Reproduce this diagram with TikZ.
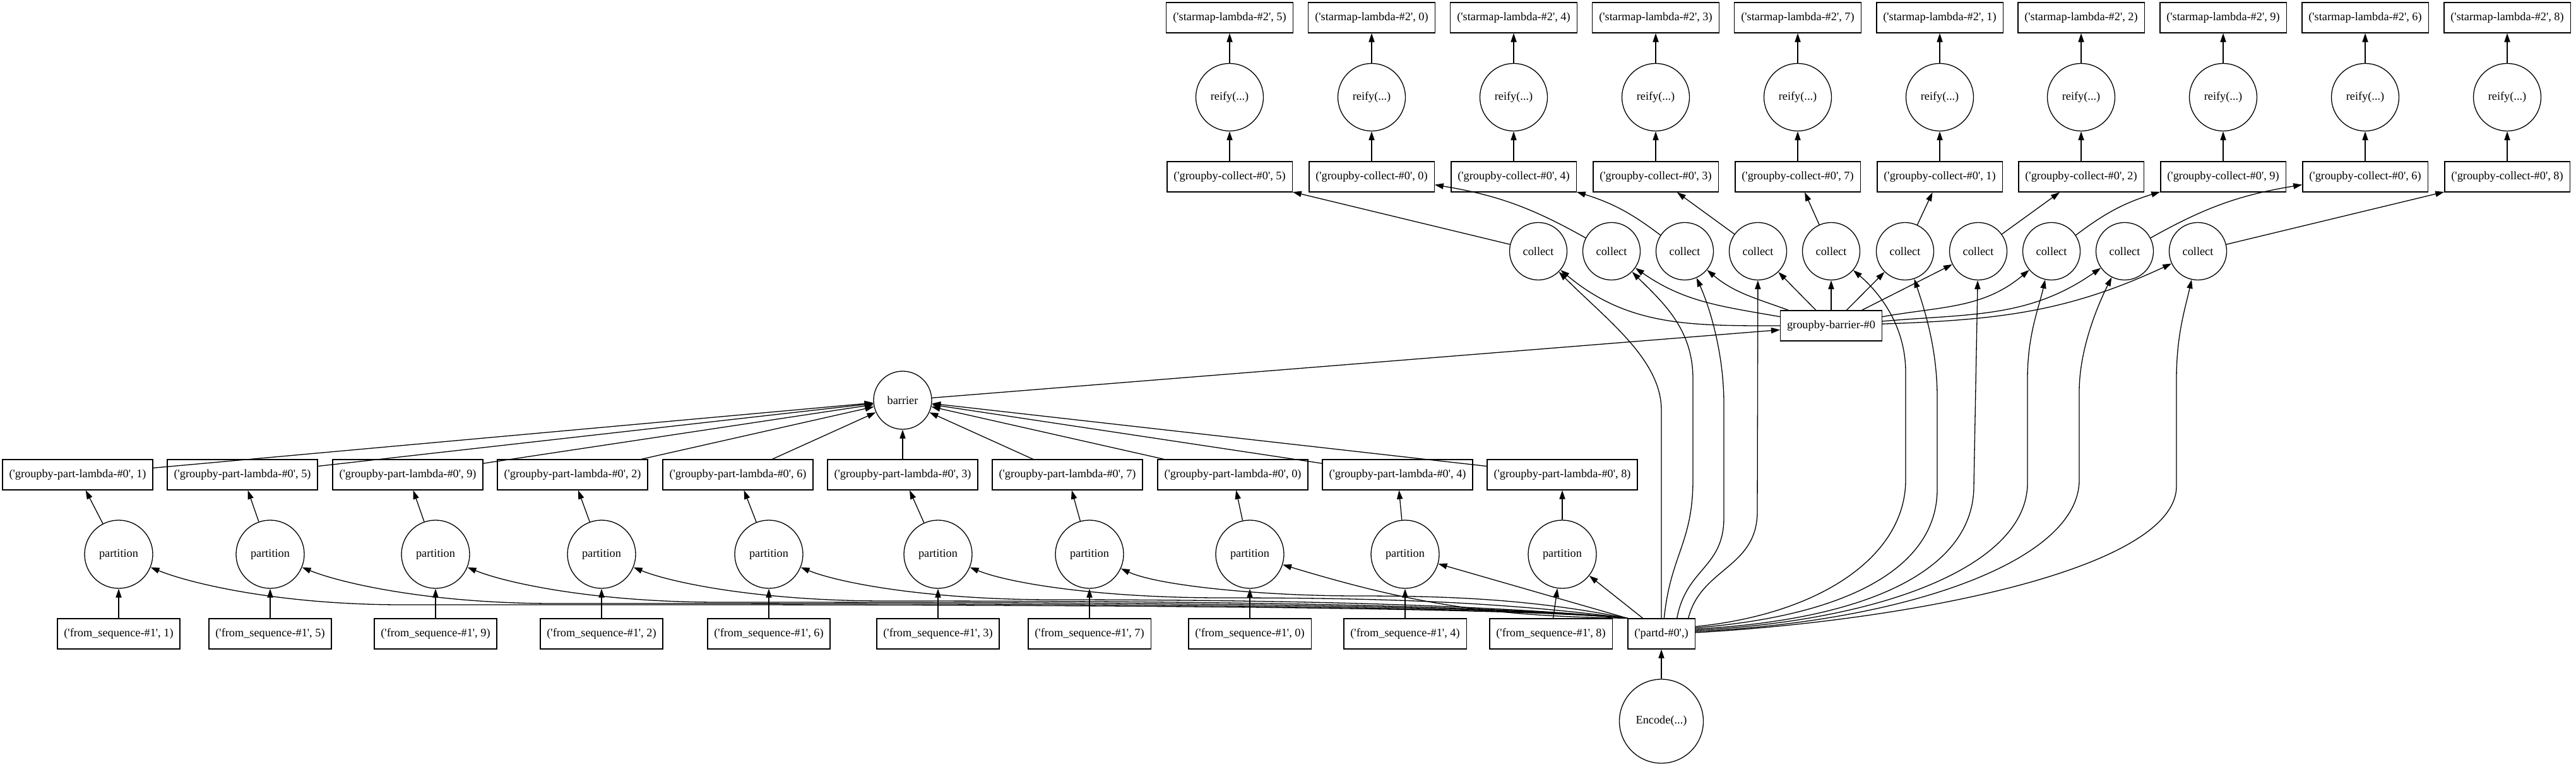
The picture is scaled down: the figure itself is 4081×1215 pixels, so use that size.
\documentclass[tikz,border=0pt]{standalone}
\usepackage{fontspec}
\usepackage{tikz}
\usetikzlibrary{arrows.meta, positioning}

\newfontfamily\gvfont{Liberation Serif}
\newcommand{\tq}{\textquotesingle}

\tikzset{
  task/.style = {draw, rectangle, minimum height=24pt, inner xsep=5.25pt, inner ysep=2pt},
  fn/.style   = {draw, circle, inner sep=0pt, minimum size=#1},
  fn/.default = 45.5pt
}

\begin{document}
\begin{tikzpicture}[->, > = {Triangle[length=7pt, width=4.6pt]}, x=0.5pt, y=-0.5pt,
    node distance = 63pt, line width=0.65pt, font=\gvfont\fontsize{9.15}{11}\selectfont]

\useasboundingbox (0,0) rectangle (4081,1215);

% groupby-collect, reify, starmap
\node[task]		(gc5)	at (1948,280)		{(\tq groupby-collect-\#0\tq, 5)};
\node[task]		(gc0)	at (2173,280)		{(\tq groupby-collect-\#0\tq, 0)};
\node[task]		(gc4)	at (2398,280)		{(\tq groupby-collect-\#0\tq, 4)};
\node[task]		(gc3)	at (2623,280)		{(\tq groupby-collect-\#0\tq, 3)};
\node[task]		(gc7)	at (2848,280)		{(\tq groupby-collect-\#0\tq, 7)};
\node[task]		(gc1)	at (3073,280)		{(\tq groupby-collect-\#0\tq, 1)};
\node[task]		(gc2)	at (3297,280)		{(\tq groupby-collect-\#0\tq, 2)};
\node[task]		(gc9)	at (3522,280)		{(\tq groupby-collect-\#0\tq, 9)};
\node[task]		(gc6)	at (3747,280)		{(\tq groupby-collect-\#0\tq, 6)};
\node[task]		(gc8)	at (3972,280)		{(\tq groupby-collect-\#0\tq, 8)};

\node[fn=53.5pt]	(rf5)	[above of=gc5]		{reify(...)};
\node[fn=53.5pt]	(rf0)	[above of=gc0]		{reify(...)};
\node[fn=53.5pt]	(rf4)	[above of=gc4]		{reify(...)};
\node[fn=53.5pt]	(rf3)	[above of=gc3]		{reify(...)};
\node[fn=53.5pt]	(rf7)	[above of=gc7]		{reify(...)};
\node[fn=53.5pt]	(rf1)	[above of=gc1]		{reify(...)};
\node[fn=53.5pt]	(rf2)	[above of=gc2]		{reify(...)};
\node[fn=53.5pt]	(rf9)	[above of=gc9]		{reify(...)};
\node[fn=53.5pt]	(rf6)	[above of=gc6]		{reify(...)};
\node[fn=53.5pt]	(rf8)	[above of=gc8]		{reify(...)};

\node[task]		(sm5)	[above of=rf5]		{(\tq starmap-lambda-\#2\tq, 5)};
\node[task]		(sm0)	[above of=rf0]		{(\tq starmap-lambda-\#2\tq, 0)};
\node[task]		(sm4)	[above of=rf4]		{(\tq starmap-lambda-\#2\tq, 4)};
\node[task]		(sm3)	[above of=rf3]		{(\tq starmap-lambda-\#2\tq, 3)};
\node[task]		(sm7)	[above of=rf7]		{(\tq starmap-lambda-\#2\tq, 7)};
\node[task]		(sm1)	[above of=rf1]		{(\tq starmap-lambda-\#2\tq, 1)};
\node[task]		(sm2)	[above of=rf2]		{(\tq starmap-lambda-\#2\tq, 2)};
\node[task]		(sm9)	[above of=rf9]		{(\tq starmap-lambda-\#2\tq, 9)};
\node[task]		(sm6)	[above of=rf6]		{(\tq starmap-lambda-\#2\tq, 6)};
\node[task]		(sm8)	[above of=rf8]		{(\tq starmap-lambda-\#2\tq, 8)};

% collect
\node[fn]		(cl5)	at (2437,398)		{collect};
\node[fn]		(cl0)	at (2553,398)		{collect};
\node[fn]		(cl4)	at (2669,398)		{collect};
\node[fn]		(cl3)	at (2785,398)		{collect};
\node[fn]		(cl7)	at (2901,398)		{collect};
\node[fn]		(cl1)	at (3018,398)		{collect};
\node[fn]		(cl2)	at (3134,398)		{collect};
\node[fn]		(cl9)	at (3250,398)		{collect};
\node[fn]		(cl6)	at (3366,398)		{collect};
\node[fn]		(cl8)	at (3482,398)		{collect};

\node[task]		(gb)	at (2901,516)		{groupby-barrier-\#0};
\node[fn=46pt]	(bar)	at (1430,634)		{barrier};

% groupby-part-lambda, partition, from_sequence
\node[task]		(gp1)	at (123,752)		{(\tq groupby-part-lambda-\#0\tq, 1)};
\node[task]		(gp5)	at (384,752)		{(\tq groupby-part-lambda-\#0\tq, 5)};
\node[task]		(gp9)	at (646,752)		{(\tq groupby-part-lambda-\#0\tq, 9)};
\node[task]		(gp2)	at (907,752)		{(\tq groupby-part-lambda-\#0\tq, 2)};
\node[task]		(gp6)	at (1169,752)		{(\tq groupby-part-lambda-\#0\tq, 6)};
\node[task]		(gp3)	at (1430,752)		{(\tq groupby-part-lambda-\#0\tq, 3)};
\node[task]		(gp7)	at (1691,752)		{(\tq groupby-part-lambda-\#0\tq, 7)};
\node[task]		(gp0)	at (1953,752)		{(\tq groupby-part-lambda-\#0\tq, 0)};
\node[task]		(gp4)	at (2214,752)		{(\tq groupby-part-lambda-\#0\tq, 4)};
\node[task]		(gp8)	at (2475,752)		{(\tq groupby-part-lambda-\#0\tq, 8)};

\node[task]		(fs1)	at (188,1004)		{(\tq from\_sequence-\#1\tq, 1)};
\node[task]		(fs5)	at (428,1004)		{(\tq from\_sequence-\#1\tq, 5)};
\node[task]		(fs9)	at (690,1004)		{(\tq from\_sequence-\#1\tq, 9)};
\node[task]		(fs2)	at (953,1004)		{(\tq from\_sequence-\#1\tq, 2)};
\node[task]		(fs6)	at (1218,1004)		{(\tq from\_sequence-\#1\tq, 6)};
\node[task]		(fs3)	at (1486,1004)		{(\tq from\_sequence-\#1\tq, 3)};
\node[task]		(fs7)	at (1726,1004)		{(\tq from\_sequence-\#1\tq, 7)};
\node[task]		(fs0)	at (1980,1004)		{(\tq from\_sequence-\#1\tq, 0)};
\node[task]		(fs4)	at (2226,1004)		{(\tq from\_sequence-\#1\tq, 4)};
\node[task]		(fs8)	at (2457,1004)		{(\tq from\_sequence-\#1\tq, 8)};

\node[fn=54pt]	(pt1)	[above of=fs1]		{partition};
\node[fn=54pt]	(pt5)	[above of=fs5]		{partition};
\node[fn=54pt]	(pt9)	[above of=fs9]		{partition};
\node[fn=54pt]	(pt2)	[above of=fs2]		{partition};
\node[fn=54pt]	(pt6)	[above of=fs6]		{partition};
\node[fn=54pt]	(pt3)	[above of=fs3]		{partition};
\node[fn=54pt]	(pt7)	[above of=fs7]		{partition};
\node[fn=54pt]	(pt0)	[above of=fs0]		{partition};
\node[fn=54pt]	(pt4)	[above of=fs4]		{partition};
\node[fn=54pt]	(pt8)	[above of=fs8, xshift=9pt]	{partition};

\node[task]		(partd)	at (2632,1004)		{(\tq partd-\#0\tq,)};
\node[fn=66.5pt]	(enc)	[below of=partd, node distance=69.25pt]	{Encode(...)};

\path	(enc)	edge	(partd);

\path	(fs1)	edge	(pt1);
\path	(fs5)	edge	(pt5);
\path	(fs9)	edge	(pt9);
\path	(fs2)	edge	(pt2);
\path	(fs6)	edge	(pt6);
\path	(fs3)	edge	(pt3);
\path	(fs7)	edge	(pt7);
\path	(fs0)	edge	(pt0);
\path	(fs4)	edge	(pt4);
\path	(fs8)	edge	(pt8);

\path	(pt1)	edge	(gp1);
\path	(pt5)	edge	(gp5);
\path	(pt9)	edge	(gp9);
\path	(pt2)	edge	(gp2);
\path	(pt6)	edge	(gp6);
\path	(pt3)	edge	(gp3);
\path	(pt7)	edge	(gp7);
\path	(pt0)	edge	(gp0);
\path	(pt4)	edge	(gp4);
\path	(pt8)	edge	(gp8);

\path	(gp1)	edge	(bar);
\path	(gp5)	edge	(bar);
\path	(gp9)	edge	(bar);
\path	(gp2)	edge	(bar);
\path	(gp6)	edge	(bar);
\path	(gp3)	edge	(bar);
\path	(gp7)	edge	(bar);
\path	(gp0)	edge	(bar);
\path	(gp4)	edge	(bar);
\path	(gp8)	edge	(bar);

\path	(bar)	edge	(gb);

\path	(gb)	edge[out=180, in=-40]	(cl5)
		edge[out=170, in=-35]	(cl0)
		edge[out=160, in=-40]	(cl4)
		edge					(cl3)
		edge					(cl7)
		edge					(cl1)
		edge					(cl2)
		edge[out=10, in=-140]	(cl9)
		edge[out=5, in=-145]	(cl6)
		edge[out=2, in=-155]	(cl8);

% partd to the partitions
\draw	(partd.north west) .. controls +(-250,-24) and +(500,0) .. (638,958) .. controls +(-200,0) and +(110,45) .. (pt1);
\draw	(partd.north west) .. controls +(-250,-24) and +(500,0) .. (878,956) .. controls +(-200,0) and +(110,45) .. (pt5);
\draw	(partd.north west) .. controls +(-250,-24) and +(500,0) .. (1140,954) .. controls +(-200,0) and +(110,45) .. (pt9);
\draw	(partd.north west) .. controls +(-250,-24) and +(400,0) .. (1403,952) .. controls +(-200,0) and +(110,45) .. (pt2);
\draw	(partd.north west) .. controls +(-250,-24) and +(300,0) .. (1668,950) .. controls +(-200,0) and +(110,45) .. (pt6);
\draw	(partd.north west) .. controls +(-200,-26) and +(250,0) .. (1936,947) .. controls +(-200,0) and +(110,45) .. (pt3);
\draw	(partd.north west) .. controls +(-150,-30) and +(150,0) .. (2150,944) .. controls +(-150,0) and +(110,50) .. (pt7);
\path	(partd.north west)	edge[bend left=8]	(pt0);
\path	(partd.north west)	edge				(pt4);
\path	(partd.140)		edge				(pt8);

% partd to the collects
\draw	(partd.90) -- (2632,650) .. controls +(0,-80) and +(110,110) .. (cl5);
\draw	(partd.80) .. controls +(10,-100) and +(0,100) .. (2682,760) -- (2682,600) .. controls +(0,-80) and +(80,80) .. (cl0);
\draw	(partd.45) .. controls +(15,-80) and +(0,80) .. (2731,820) -- (2731,640) .. controls +(0,-80) and +(40,90) .. (cl4);
\draw	(partd.30) .. controls +(20,-80) and +(0,90) .. (2784,810) -- (cl3);
\draw	(partd.12) .. controls +(200,-20) and +(0,120) .. (3019,760) -- (3019,590) .. controls +(0,-80) and +(70,60) .. (cl7);
\draw	(partd.10) .. controls +(250,-20) and +(0,120) .. (3069,775) -- (3069,630) .. controls +(0,-80) and +(30,90) .. (cl1);
\draw	(partd.8) .. controls +(280,-15) and +(0,130) .. (3127,770) -- (cl2);
\draw	(partd.6) .. controls +(300,-15) and +(0,130) .. (3212,765) -- (3212,600) .. controls +(0,-70) and +(-20,90) .. (cl9);
\draw	(partd.4) .. controls +(330,-15) and +(0,130) .. (3294,760) -- (3294,620) .. controls +(0,-70) and +(-40,80) .. (cl6);
\draw	(partd.2) .. controls +(350,-20) and +(0,130) .. (3448,770) -- (3448,600) .. controls +(0,-70) and +(-20,90) .. (cl8);

\path	(cl5)	edge					(gc5);
\path	(cl0)	edge[bend right=10]	(gc0);
\path	(cl4)	edge[bend right=10]	(gc4);
\path	(cl3)	edge					(gc3);
\path	(cl7)	edge					(gc7);
\path	(cl1)	edge					(gc1);
\path	(cl2)	edge					(gc2);
\path	(cl9)	edge[bend left=10]		(gc9);
\path	(cl6)	edge[bend left=10]		(gc6);
\path	(cl8)	edge					(gc8);

\path	(gc5)	edge	(rf5)	(rf5)	edge	(sm5);
\path	(gc0)	edge	(rf0)	(rf0)	edge	(sm0);
\path	(gc4)	edge	(rf4)	(rf4)	edge	(sm4);
\path	(gc3)	edge	(rf3)	(rf3)	edge	(sm3);
\path	(gc7)	edge	(rf7)	(rf7)	edge	(sm7);
\path	(gc1)	edge	(rf1)	(rf1)	edge	(sm1);
\path	(gc2)	edge	(rf2)	(rf2)	edge	(sm2);
\path	(gc9)	edge	(rf9)	(rf9)	edge	(sm9);
\path	(gc6)	edge	(rf6)	(rf6)	edge	(sm6);
\path	(gc8)	edge	(rf8)	(rf8)	edge	(sm8);

\end{tikzpicture}
\end{document}
